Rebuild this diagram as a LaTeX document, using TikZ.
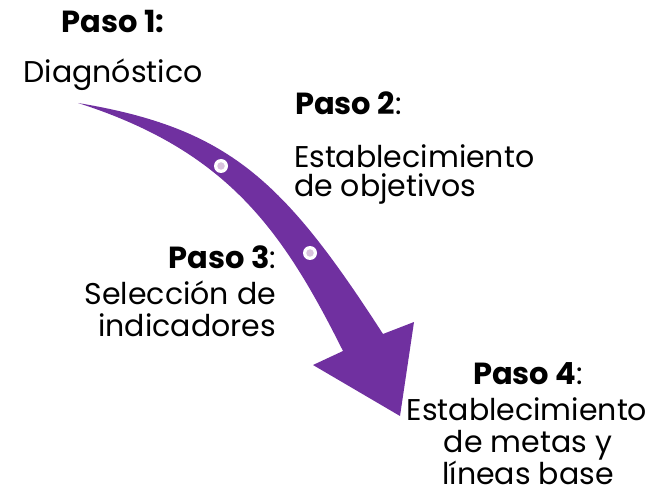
\documentclass[tikz,border=0pt]{standalone}
\usepackage{fontspec}
\setmainfont{Poppins}
\definecolor{arrowpurple}{HTML}{7030A0}
\definecolor{dotpink}{HTML}{D9C3DD}
\tikzset{
  txt/.style={inner sep=0pt, outer sep=0pt, font=\fontsize{30}{33}\selectfont},
  ttl/.style={txt, font=\fontsize{30.5}{33}\selectfont\bfseries},
  dotring/.style={circle, fill=white, minimum size=14pt, inner sep=0pt},
  dotcore/.style={circle, fill=dotpink, minimum size=7.5pt, inner sep=0pt}
}
\begin{document}
\begin{tikzpicture}[x=1pt,y=-1pt]
\useasboundingbox (0,0) rectangle (669,494);
% arrow
\coordinate (tail) at (78,103);
\coordinate (jr) at (383,334);
\coordinate (jl) at (343,351);
\coordinate (bl) at (313,365);
\coordinate (tip) at (400,416);
\coordinate (br) at (414,322);
\fill[arrowpurple] (tail) .. controls (228,128) and (283,179) .. (jr)
  -- (br) -- (tip) -- (bl) -- (jl)
  .. controls (283,231) and (228,151) .. (tail) -- cycle;
\node[dotring] (d1) at (221,166) {};
\node[dotcore] (c1) at (d1) {};
\node[dotring] (d2) at (310,253) {};
\node[dotcore] (c2) at (d2) {};
% step 1
\node[ttl, anchor=base] (p1) at (113,33) {Paso 1:};
\node[txt, anchor=base] (b1) at (113,83) {Diagnóstico};
% step 2
\node[ttl, anchor=base west] (p2) at (295,115) {Paso 2\textmd{:}};
\node[txt, anchor=base west] (b2a) at (294,168) {Establecimiento};
\node[txt, anchor=base west] (b2b) at (294,197) {de objetivos};
% step 3
\node[ttl, anchor=base east] (p3) at (276,269) {Paso 3\textmd{:}};
\node[txt, anchor=base east] (b3a) at (276,304) {Selección de};
\node[txt, anchor=base east] (b3b) at (276,336) {indicadores};
% step 4
\node[ttl, anchor=base] (p4) at (528,384) {Paso 4\textmd{:}};
\node[txt, anchor=base] (b4a) at (527,420) {Establecimiento};
\node[txt, anchor=base] (b4b) at (528,452) {de metas y};
\node[txt, anchor=base] (b4c) at (528,484) {líneas base};
\end{tikzpicture}
\end{document}
